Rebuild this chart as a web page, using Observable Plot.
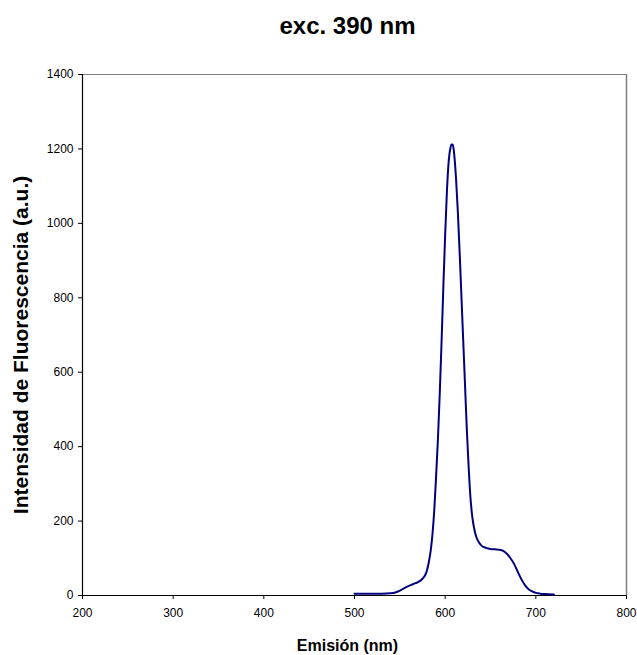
<!DOCTYPE html>
<html>
<head>
<meta charset="utf-8">
<script src="https://cdn.jsdelivr.net/npm/d3@7"></script>
<script src="https://cdn.jsdelivr.net/npm/@observablehq/plot@0.6"></script>
<style>
  html, body { margin: 0; padding: 0; background: #fff; }
  #chart svg { display: block; }
</style>
</head>
<body>
<div id="chart"></div>
<script>
// Emission wavelength (nm)
const wavelength = [500, 510, 520, 530, 540, 545, 550, 555, 560, 565, 570, 575, 578, 580, 582, 584, 586, 588, 590, 592, 594, 596, 598, 600, 602, 604, 606, 607, 608, 609, 610, 612, 614, 616, 618, 620, 622, 624, 626, 628, 630, 632, 634, 636, 638, 640, 645, 650, 655, 660, 664, 668, 672, 676, 680, 684, 688, 692, 696, 700, 705, 710, 720];
// Fluorescence intensity (a.u.)
const intensity = [5, 5, 5, 5, 6, 8, 13, 20, 26, 31, 36, 45, 55, 68, 90, 120, 165, 230, 320, 420, 540, 680, 830, 970, 1090, 1170, 1205, 1212, 1212, 1205, 1185, 1120, 1030, 920, 800, 680, 560, 440, 340, 260, 210, 180, 160, 148, 140, 134, 128, 125, 124, 123, 120, 112, 100, 85, 64, 44, 28, 17, 11, 7, 5, 4, 3];

const xTicks = [200, 300, 400, 500, 600, 700, 800];
const yTicks = [0, 200, 400, 600, 800, 1000, 1200, 1400];

const titleText = "exc. 390 nm";
const xLabel = "Emisión (nm)";
const yLabel = "Intensidad de Fluorescencia (a.u.)";

const data = wavelength.map((w, i) => ({w, v: intensity[i]}));
const FONT = "'Liberation Sans', Arial, Helvetica, sans-serif";

const chart = Plot.plot({
  width: 637,
  height: 655,
  marginLeft: 82,
  marginRight: 11,
  marginTop: 74,
  marginBottom: 60,
  style: {fontFamily: FONT, fontSize: "12px", color: "#000", background: "#fff"},
  x: {domain: [200, 800]},
  y: {domain: [0, 1400]},
  marks: [
    Plot.ruleY([1400], {stroke: "#808080", strokeWidth: 1}),
    Plot.ruleX([800], {stroke: "#808080", strokeWidth: 1.5}),
    Plot.axisX({ticks: xTicks, tickSize: 4, tickPadding: 9, label: null, stroke: "#000", fill: "#000", tickFormat: d => String(d)}),
    Plot.axisY({ticks: yTicks, tickSize: 4, tickPadding: 5, label: null, stroke: "#000", fill: "#000", tickFormat: d => String(d)}),
    Plot.ruleX([200], {stroke: "#000", strokeWidth: 1.2}),
    Plot.ruleY([0], {stroke: "#000", strokeWidth: 1.2}),
    Plot.line(data, {x: "w", y: "v", stroke: "#000080", strokeWidth: 2, curve: "monotone-x"}),
    Plot.text([titleText], {frameAnchor: "top", lineAnchor: "middle", dx: -7, dy: -48, fontSize: 24, fontWeight: "bold", fill: "#000", text: d => d}),
    Plot.text([xLabel], {frameAnchor: "bottom", lineAnchor: "middle", dx: -7, dy: 50, fontSize: 16, fontWeight: "bold", fill: "#000", text: d => d}),
    Plot.text([yLabel], {frameAnchor: "left", textAnchor: "middle", lineAnchor: "middle", dx: -61, dy: 10, rotate: -90, fontSize: 21, fontWeight: "bold", fill: "#000", text: d => d})
  ]
});
document.getElementById("chart").appendChild(chart);
</script>
</body>
</html>
